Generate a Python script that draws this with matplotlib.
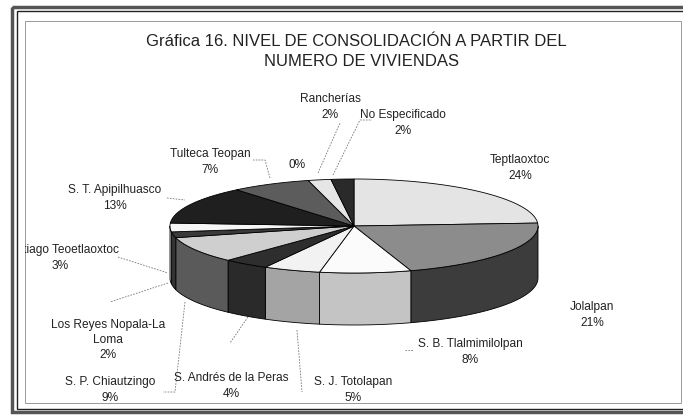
import numpy as np
import matplotlib.pyplot as plt
from matplotlib.patches import Polygon, Rectangle

# data: share of housing units per locality (percent), clockwise from 12 o'clock
localidades = ["Teptlaoxtoc", "Jolalpan", "S. B. Tlalmimilolpan", "S. J. Totolapan",
               "S. Andrés de la Peras", "S. P. Chiautzingo", "Los Reyes Nopala-La\nLoma",
               "Santiago Teoetlaoxtoc", "S. T. Apipilhuasco", "Tulteca Teopan", "",
               "Rancherías", "No Especificado"]
porcentajes = [24, 21, 8, 5, 4, 9, 2, 3, 13, 7, 0, 2, 2]

# grey shades of the scanned chart (top face, side wall)
top_colors = ["#e4e4e4", "#8c8c8c", "#fbfbfb", "#f2f2f2", "#2e2e2e", "#cfcfcf", "#3a3a3a",
              "#f6f6f6", "#1f1f1f", "#5c5c5c", "#777777", "#e6e6e6", "#2a2a2a"]
side_colors = ["#9a9a9a", "#3c3c3c", "#c4c4c4", "#a4a4a4", "#2a2a2a", "#5a5a5a", "#333333",
               "#cccccc", "#1a1a1a", "#444444", "#555555", "#bbbbbb", "#222222"]

# label anchor points in pixels and leader lines
label_pos = [(520, 168), (592, 315), (470, 352), (353, 390), (231, 386), (110, 390),
             (108, 340), (60, 258), (115, 198), (210, 162), (297, 165), (330, 107),
             (403, 123)]
leaders = [None, None, [(405, 350), (413, 350)], [(297, 330), (302, 392)],
           [(248, 317), (230, 343)], [(185, 302), (175, 392), (163, 392)],
           [(168, 283), (110, 302)], [(118, 257), (168, 273)], [(167, 198), (185, 200)],
           [(270, 178), (265, 160), (253, 160)], None, [(318, 173), (340, 123)],
           [(333, 175), (360, 120), (372, 120)]]

cx, cy, a, b, h = 354, 226, 184, 47, 52
W, H = 683, 416
x0, y0, x1, y1 = 25, 21, 681, 403   # inner frame

fig = plt.figure(figsize=(6.83, 4.16), dpi=100)

# background axes for the scanned double frame
bg = fig.add_axes([0, 0, 1, 1])
bg.set_xlim(0, W)
bg.set_ylim(H, 0)
bg.axis("off")
bg.add_patch(Rectangle((12, 7), 700, 405, fill=False, lw=2.5, edgecolor="#555555"))
bg.add_patch(Rectangle((17, 11), 700, 398, fill=False, lw=1.0, edgecolor="#222222"))
bg.add_patch(Rectangle((x0, y0), x1 - x0, y1 - y0, fill=False, lw=0.7,
                       edgecolor="#999999"))

# chart area = inside of inner frame, still in pixel units
ax = fig.add_axes([x0 / W, 1 - y1 / H, (x1 - x0) / W, (y1 - y0) / H])
ax.set_xlim(x0, x1)
ax.set_ylim(y1, y0)
ax.axis("off")


def arc(t1, t2, dy=0):
    t = np.radians(np.linspace(t1, t2, 60))
    return np.column_stack([cx + a * np.cos(t), cy - b * np.sin(t) + dy])


frac = np.array(porcentajes) / sum(porcentajes)
ends = 90 - 360 * np.cumsum(frac)
starts = np.concatenate([[90], ends[:-1]])

# side walls (front half only)
for s, e, col in zip(starts, ends, side_colors):
    lo, hi = max(e, -180), min(s, 0)
    if hi <= lo:
        continue
    top = arc(lo, hi)
    bot = arc(hi, lo, h)
    ax.add_patch(Polygon(np.vstack([top, bot]), closed=True, facecolor=col,
                         edgecolor="black", lw=0.6, zorder=2))

# top faces
for s, e, col in zip(starts, ends, top_colors):
    if s - e <= 0:
        continue
    pts = np.vstack([[cx, cy], arc(e, s)])
    ax.add_patch(Polygon(pts, closed=True, facecolor=col, edgecolor="black",
                         lw=0.6, zorder=3))

for name, pct, (x, y), ld in zip(localidades, porcentajes, label_pos, leaders):
    txt = f"{name}\n{pct}%" if name else f"{pct}%"
    ax.text(x, y, txt, ha="center", va="center", fontsize=8.6, clip_on=True,
            family="Liberation Sans", color="#222222", linespacing=1.34, zorder=5)
    if ld:
        xs, ys = zip(*ld)
        ax.plot(xs, ys, color="#777777", lw=0.6, ls=(0, (2, 1.5)), zorder=4)

ax.text(356, 42, "Gráfica 16. NIVEL DE CONSOLIDACIÓN A PARTIR DEL", ha="center",
        va="center", fontsize=12, family="Liberation Sans", color="#222222")
ax.text(362, 62, "NUMERO DE VIVIENDAS", ha="center", va="center", fontsize=12,
        family="Liberation Sans", color="#222222")

fig.savefig("out.png", dpi=100)
